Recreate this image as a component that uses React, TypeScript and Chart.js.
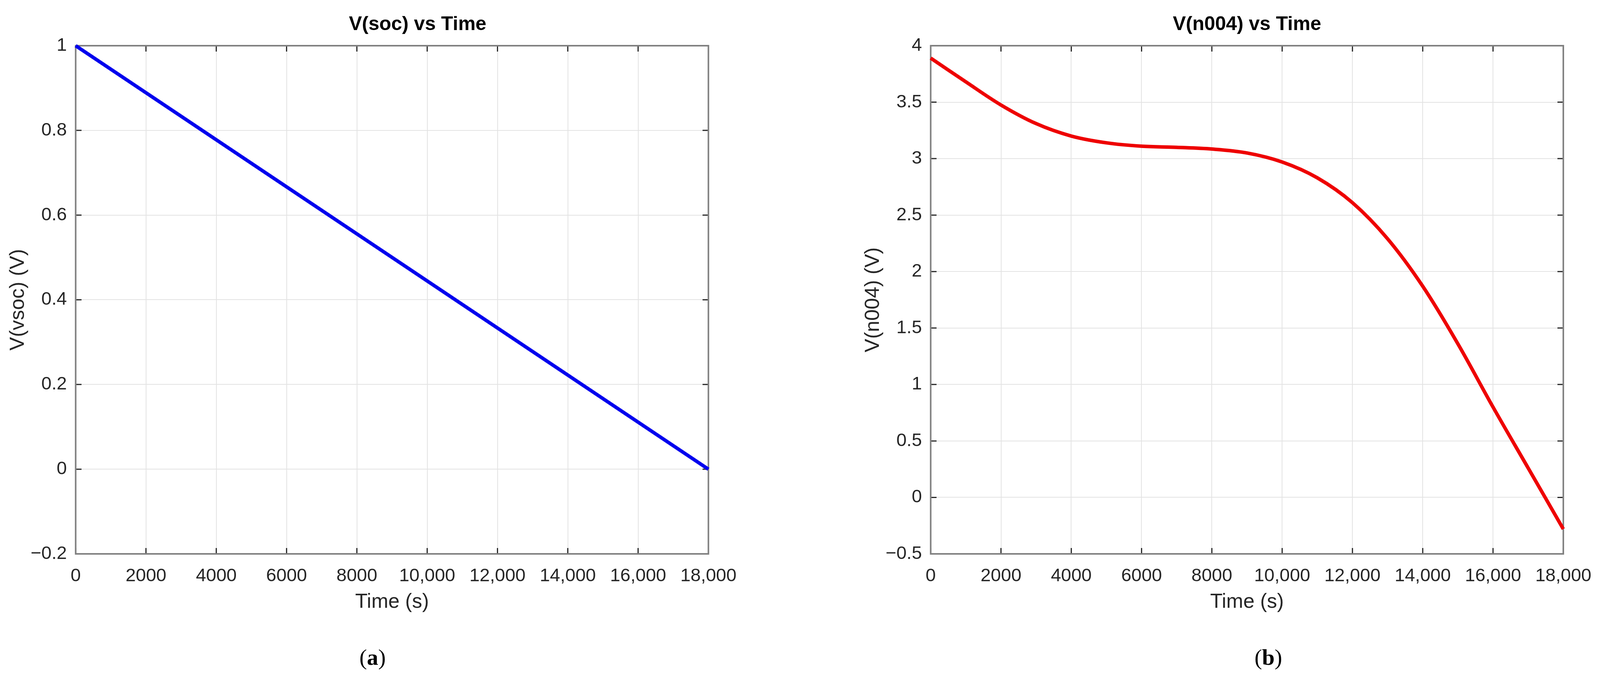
import { useEffect, useRef } from "react";
import { Chart, registerables } from "chart.js";

Chart.register(...registerables);

// (a) V(soc): straight discharge line
const socTime = [0, 18000];
const socValues = [1, 0];

// (b) V(n004): every 1000 s
const n004Time = [
  0, 1000, 2000, 3000, 4000, 5000, 6000, 7000, 8000, 9000, 10000, 11000,
  12000, 13000, 14000, 15000, 16000, 17000, 18000,
];
const n004Values = [
  3.89, 3.68, 3.475, 3.31, 3.2, 3.14, 3.11, 3.1, 3.085, 3.05, 2.97, 2.83,
  2.61, 2.29, 1.87, 1.36, 0.8, 0.26, -0.28,
];

const xTicks = [0, 2000, 4000, 6000, 8000, 10000, 12000, 14000, 16000, 18000];
const xTickLabels = [
  "0", "2000", "4000", "6000", "8000", "10,000", "12,000", "14,000", "16,000", "18,000",
];
const socTicks = [-0.2, 0, 0.2, 0.4, 0.6, 0.8, 1];
const socTickLabels = ["\u22120.2", "0", "0.2", "0.4", "0.6", "0.8", "1"];
const n004Ticks = [-0.5, 0, 0.5, 1, 1.5, 2, 2.5, 3, 3.5, 4];
const n004TickLabels = ["\u22120.5", "0", "0.5", "1", "1.5", "2", "2.5", "3", "3.5", "4"];

const SANS = "'Liberation Sans', Arial, sans-serif";

// layout is measured on a 4187px wide figure; squeeze it into the real viewport
const SX = Math.min(1, window.innerWidth / 4187);

// box round the plot with inward tick marks on all four sides
const axesBox = {
  id: "axesBox",
  beforeDatasetsDraw(chart: any) {
    const { ctx, chartArea, scales } = chart;
    const { left, top, right, bottom } = chartArea;
    const len = 15;
    ctx.save();
    ctx.strokeStyle = "#262626";
    ctx.lineWidth = 3;
    ctx.beginPath();
    scales.x.ticks.forEach((t: any) => {
      const px = scales.x.getPixelForValue(t.value);
      ctx.moveTo(px, bottom);
      ctx.lineTo(px, bottom - len);
      ctx.moveTo(px, top);
      ctx.lineTo(px, top + len);
    });
    scales.y.ticks.forEach((t: any) => {
      const py = scales.y.getPixelForValue(t.value);
      ctx.moveTo(left, py);
      ctx.lineTo(left + len, py);
      ctx.moveTo(right, py);
      ctx.lineTo(right - len, py);
    });
    ctx.stroke();
    ctx.strokeStyle = "#808080";
    ctx.lineWidth = 4;
    ctx.strokeRect(left, top, right - left, bottom - top);
    ctx.restore();
  },
};

type PlotProps = {
  title: string;
  yTitle: string;
  xs: number[];
  ys: number[];
  color: string;
  yTicks: number[];
  yTickLabels: string[];
  width: number;
  yAxisWidth: number;
  yTitlePad: number;
  padRight: number;
  titleShift: number;
};

function Plot(p: PlotProps) {
  const canvasRef = useRef<HTMLCanvasElement>(null);
  const chartRef = useRef<Chart | null>(null);
  const width = Math.round(p.width * SX);

  useEffect(() => {
    if (!canvasRef.current) return;
    if (chartRef.current) chartRef.current.destroy();

    const scales: any = {
      x: {
        type: "linear",
        min: 0,
        max: 18000,
        afterBuildTicks: (s: any) => {
          s.ticks = xTicks.map((v) => ({ value: v }));
        },
        afterFit: (s: any) => {
          s.height = 202;
          s.paddingLeft = 0;
          s.paddingRight = 0;
        },
        grid: { color: "#e3e3e3", lineWidth: 2, drawTicks: false },
        border: { display: false },
        ticks: {
          padding: 29,
          color: "#262626",
          font: { family: SANS, size: 47 },
          maxRotation: 0,
          autoSkip: false,
          callback: (_v: any, i: number) => xTickLabels[i],
        },
        title: {
          display: true,
          text: "Time (s)",
          color: "#262626",
          font: { family: SANS, size: 52 },
          padding: { top: 0, bottom: 47 },
        },
      },
      y: {
        type: "linear",
        min: p.yTicks[0],
        max: p.yTicks[p.yTicks.length - 1],
        afterBuildTicks: (s: any) => {
          s.ticks = p.yTicks.map((v) => ({ value: v }));
        },
        afterFit: (s: any) => {
          s.width = p.yAxisWidth * SX;
          s.paddingTop = 0;
          s.paddingBottom = 0;
        },
        grid: { color: "#e3e3e3", lineWidth: 2, drawTicks: false },
        border: { display: false },
        ticks: {
          padding: 23 * SX,
          color: "#262626",
          font: { family: SANS, size: 47 },
          autoSkip: false,
          callback: (_v: any, i: number) => p.yTickLabels[i],
        },
        title: {
          display: true,
          text: p.yTitle,
          color: "#262626",
          font: { family: SANS, size: 52 },
          padding: { top: p.yTitlePad * SX, bottom: 0 },
        },
      },
    };
    if (p.titleShift > 0) {
      // empty box on the right so the title sits off-centre like the original
      scales.pad = {
        type: "linear",
        position: "right",
        display: true,
        grid: { display: false },
        border: { display: false },
        ticks: { display: false },
        afterFit: (s: any) => {
          s.width = p.titleShift * SX;
        },
      };
    }

    chartRef.current = new Chart(canvasRef.current, {
      type: "line",
      data: {
        datasets: [
          {
            data: p.xs.map((x, i) => ({ x, y: p.ys[i] })),
            borderColor: p.color,
            borderWidth: 9,
            pointRadius: 0,
            tension: 0.35,
            clip: false,
          } as any,
        ],
      },
      options: {
        animation: false,
        responsive: false,
        devicePixelRatio: 1,
        layout: { padding: { left: 0, right: p.padRight * SX, top: 0, bottom: 0 } },
        plugins: {
          legend: { display: false },
          tooltip: { enabled: false },
          title: {
            display: true,
            text: p.title,
            color: "#000",
            fullSize: p.titleShift > 0,
            font: { family: SANS, size: 50, weight: "bold", lineHeight: "60px" } as any,
            padding: { top: 33, bottom: 24 },
          },
        },
        scales,
      },
      plugins: [axesBox],
    });

    return () => {
      if (chartRef.current) {
        chartRef.current.destroy();
        chartRef.current = null;
      }
    };
  }, []);

  return (
    <canvas
      ref={canvasRef}
      width={width}
      height={1620}
      style={{ width, height: 1620, display: "block" }}
    />
  );
}

const captionStyle: any = {
  position: "absolute",
  top: 1683,
  transform: "translate(-50%, -50%)",
  fontFamily: "'Liberation Serif', 'Times New Roman', serif",
  fontSize: 58,
  lineHeight: 1,
  color: "#000",
  whiteSpace: "nowrap",
};

export default function App() {
  return (
    <div
      style={{
        position: "absolute",
        left: 0,
        top: 0,
        width: 4187 * SX,
        height: 1746,
        background: "#fff",
        overflow: "hidden",
      }}
    >
      <div style={{ position: "absolute", left: 0, top: 0 }}>
        <Plot
          title="V(soc) vs Time"
          yTitle="V(vsoc) (V)"
          xs={socTime}
          ys={socValues}
          color="#0000ee"
          yTicks={socTicks}
          yTickLabels={socTickLabels}
          width={2200}
          yAxisWidth={198}
          yTitlePad={16}
          padRight={14}
          titleShift={332}
        />
      </div>
      <div style={{ position: "absolute", left: 2093 * SX, top: 0 }}>
        <Plot
          title="V(n004) vs Time"
          yTitle="V(n004) (V)"
          xs={n004Time}
          ys={n004Values}
          color="#ee0000"
          yTicks={n004Ticks}
          yTickLabels={n004TickLabels}
          width={2094}
          yAxisWidth={342}
          yTitlePad={160}
          padRight={96}
          titleShift={0}
        />
      </div>
      <div style={{ ...captionStyle, left: 975 * SX }}>
        (<b>a</b>)
      </div>
      <div style={{ ...captionStyle, left: 3319 * SX }}>
        (<b>b</b>)
      </div>
    </div>
  );
}
